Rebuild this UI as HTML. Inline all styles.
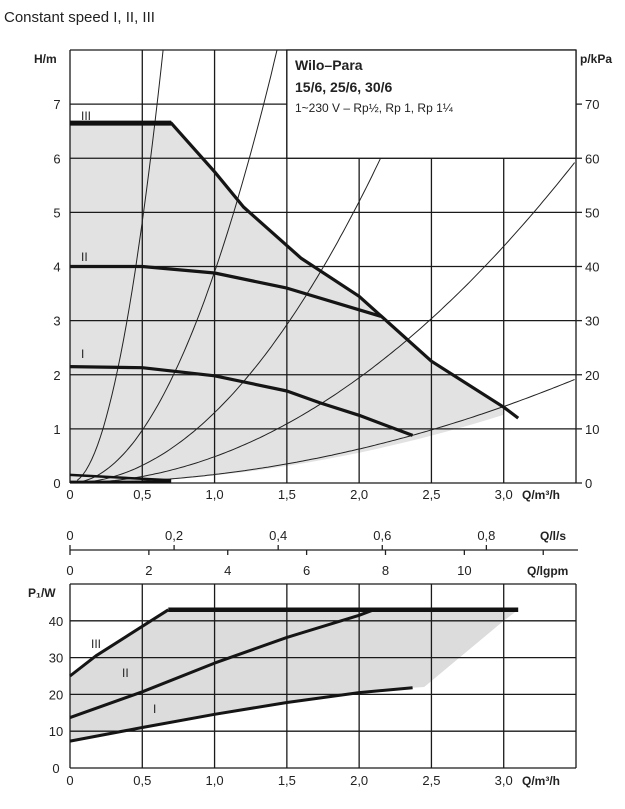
<!DOCTYPE html>
<html><head><meta charset="utf-8"><style>
body{margin:0;background:#fff;width:625px;height:804px;overflow:hidden;font-family:"Liberation Sans",sans-serif}
svg text{font-family:"Liberation Sans",sans-serif;fill:#222}
</style></head><body>
<svg id="c" width="625" height="804" xmlns="http://www.w3.org/2000/svg">
<text x="4" y="22" font-size="15">Constant speed I, II, III</text>
<g id="top"></g>
<g id="mid"></g>
<g id="bot"></g>
</svg>
<script>
// ---- data ----
const qTicks=[0,0.5,1.0,1.5,2.0,2.5,3.0];
const qLabels=["0","0,5","1,0","1,5","2,0","2,5","3,0"];
const hTicks=[0,1,2,3,4,5,6,7];
const pTicks=[0,10,20,30,40,50,60,70];
const curveIII=[[0,6.65],[0.7,6.65],[1.0,5.75],[1.2,5.1],[1.6,4.15],[2.0,3.45],[2.5,2.25],[3.0,1.4],[3.1,1.2]];
const curveII=[[0,4.0],[0.5,4.0],[1.0,3.88],[1.5,3.6],[2.0,3.2],[2.15,3.08]];
const curveI=[[0,2.15],[0.5,2.13],[1.0,1.98],[1.5,1.7],[1.73,1.48],[2.0,1.25],[2.37,0.88]];
const systemK=[19.3,3.9,1.3,0.486,0.157];
const shadeLowK=0.14;
const lsTicks=[0,0.2,0.4,0.6,0.8];
const lsLabels=["0","0,2","0,4","0,6","0,8"];
const gpmTicks=[0,2,4,6,8,10,12];
const gpmLabels=["0","2","4","6","8","10",""];
const wTicks=[0,10,20,30,40];
const powerIII=[[0,25],[0.18,30.5],[0.68,43],[3.1,43]];
const powerII=[[0,13.7],[0.5,20.7],[1.0,28.5],[1.5,35.5],[2.0,41.5],[2.1,43]];
const powerI=[[0,7.3],[0.5,11],[1.0,14.6],[1.5,17.8],[2.0,20.5],[2.37,21.8]];
const powerShadeEdge=[[3.1,43],[3.0,40],[2.45,22]];

// ---- axes ----
const NS="http://www.w3.org/2000/svg";
const X0=70,X1=576,QMAX=3.5;
const qx=q=>X0+q/QMAX*(X1-X0);
const TY0=483,TY1=50,HMAX=8;
const hy=h=>TY0-h/HMAX*(TY0-TY1);
const BY0=768,BY1=584,WMAX=50;
const wy=w=>BY0-w/WMAX*(BY0-BY1);
function el(p,tag,a,txt){const e=document.createElementNS(NS,tag);for(const k in a)e.setAttribute(k,a[k]);if(txt!==undefined)e.textContent=txt;p.appendChild(e);return e;}
const pathOf=(pts,fy)=>pts.map((p,i)=>(i?'L':'M')+qx(p[0]).toFixed(1)+','+fy(p[1]).toFixed(1)).join(' ');
const gTop=document.getElementById('top'),gMid=document.getElementById('mid'),gBot=document.getElementById('bot');

// top chart shading
let low=[];for(let q=3.0;q>=-0.001;q-=0.1)low.push([Math.max(q,0),shadeLowK*q*q]);
let shadeTop=curveIII.filter(p=>p[0]<=3.0).concat([[3.0,1.35]]).concat(low);
let s=el(gTop,'path',{d:pathOf(shadeTop,hy)+'Z',fill:'#e2e2e2',stroke:'none'});


// grid
qTicks.concat([QMAX]).forEach(q=>{const l=el(gTop,'line',{x1:qx(q),x2:qx(q),y1:TY1,y2:TY0,stroke:'#1a1a1a','stroke-width':1.3});

});
hTicks.concat([HMAX]).forEach(h=>{const l=el(gTop,'line',{x1:X0,x2:X1,y1:hy(h),y2:hy(h),stroke:'#1a1a1a','stroke-width':1.3});

});
// system curves
systemK.forEach(k=>{let pts=[];for(let q=0.05;q<=QMAX+0.001;q+=0.02){const h=k*q*q;if(h>HMAX){pts.push([Math.sqrt(HMAX/k),HMAX]);break;}pts.push([q,h]);}
const c=el(gTop,'path',{d:pathOf(pts,hy),fill:'none',stroke:'#222','stroke-width':1});

});
// small near-zero lines
const z=el(gTop,'path',{d:pathOf([[0,0.15],[0.7,0.05]],hy)+' '+pathOf([[0,0.02],[0.7,0.02]],hy),stroke:'#111','stroke-width':2.5,fill:'none'});


// legend box
const lb=el(gTop,'rect',{x:qx(1.5),y:TY1,width:X1-qx(1.5),height:hy(6)-TY1,fill:'#fff',stroke:'#1a1a1a','stroke-width':1.3});


el(gTop,'text',{x:295,y:70,'font-size':14,'font-weight':'bold',},'Wilo–Para');
el(gTop,'text',{x:295,y:92,'font-size':14,'font-weight':'bold',},'15/6, 25/6, 30/6');
el(gTop,'text',{x:295,y:112,'font-size':12,},'1~230 V – Rp½, Rp 1, Rp 1¼');
// pump curves
[[curveIII,'curve-speed-III'],[curveII,'curve-speed-II'],[curveI,'curve-speed-I']].forEach(([d,n])=>{
const c=el(gTop,'path',{d:pathOf(d,hy),fill:'none',stroke:'#151515','stroke-width':3.2,'stroke-linejoin':'round'});

});
const mx=el(gTop,'path',{d:pathOf(curveIII.slice(0,2),hy),stroke:'#111','stroke-width':5,fill:'none'});


el(gTop,'text',{x:81,y:120,'font-size':12,fill:'#555',},'III');
el(gTop,'text',{x:81,y:261,'font-size':12,},'II');
el(gTop,'text',{x:81,y:358,'font-size':12,},'I');
// axis labels
hTicks.forEach(h=>{const t=el(gTop,'text',{x:57,y:hy(h)+5,'font-size':13,'text-anchor':'middle'},h);

});
pTicks.forEach(p=>{el(gTop,'line',{x1:X1,x2:X1+6,y1:hy(p/10),y2:hy(p/10),stroke:'#222','stroke-width':1.3});
const t=el(gTop,'text',{x:585,y:hy(p/10)+5,'font-size':13},p);

});
el(gTop,'text',{x:34,y:63,'font-size':12,'font-weight':'bold',},'H/m');
el(gTop,'text',{x:580,y:63,'font-size':12,'font-weight':'bold',},'p/kPa');
qTicks.forEach((q,i)=>{const t=el(gTop,'text',{x:qx(q),y:499,'font-size':13,'text-anchor':'middle'},qLabels[i]);

});
el(gTop,'text',{x:522,y:499,'font-size':12,'font-weight':'bold',},'Q/m³/h');

// middle axes
const AY=550;
el(gMid,'line',{x1:X0,x2:578,y1:AY,y2:AY,stroke:'#222','stroke-width':1.3,});
lsTicks.forEach((v,i)=>{const x=qx(v*3.6);el(gMid,'line',{x1:x,x2:x,y1:AY-5,y2:AY,stroke:'#222','stroke-width':1.3});
const t=el(gMid,'text',{x:x,y:540,'font-size':13,'text-anchor':'middle'},lsLabels[i]);

});
gpmTicks.forEach((v,i)=>{const x=qx(v/3.666);el(gMid,'line',{x1:x,x2:x,y1:AY,y2:AY+5,stroke:'#222','stroke-width':1.3});
const t=el(gMid,'text',{x:x,y:575,'font-size':13,'text-anchor':'middle'},gpmLabels[i]);

});
el(gMid,'text',{x:540,y:540,'font-size':12,'font-weight':'bold',},'Q/l/s');
el(gMid,'text',{x:527,y:575,'font-size':12,'font-weight':'bold',},'Q/lgpm');

// bottom chart
const bs=powerIII.slice(0,3).concat(powerShadeEdge).concat(powerI.slice().reverse());
const bsh=el(gBot,'path',{d:pathOf(bs,wy)+'Z',fill:'#dcdcdc',stroke:'none'});


qTicks.concat([QMAX]).forEach(q=>{const l=el(gBot,'line',{x1:qx(q),x2:qx(q),y1:BY1,y2:BY0,stroke:'#1a1a1a','stroke-width':1.3});

});
wTicks.concat([WMAX]).forEach(w=>{const l=el(gBot,'line',{x1:X0,x2:X1,y1:wy(w),y2:wy(w),stroke:'#1a1a1a','stroke-width':1.3});

});
[[powerII,'power-II'],[powerI,'power-I'],[powerIII.slice(0,3),'power-III']].forEach(([d,n])=>{
const c=el(gBot,'path',{d:pathOf(d,wy),fill:'none',stroke:'#151515','stroke-width':3,'stroke-linejoin':'round'});

});
const pm=el(gBot,'path',{d:pathOf(powerIII.slice(2),wy),stroke:'#111','stroke-width':4.5,fill:'none'});


el(gBot,'text',{x:91,y:648,'font-size':12,fill:'#444',},'III');
el(gBot,'text',{x:122,y:677,'font-size':12,},'II');
el(gBot,'text',{x:153,y:713,'font-size':12,},'I');
wTicks.forEach(w=>{const t=el(gBot,'text',{x:56,y:wy(w)+5,'font-size':13,'text-anchor':'middle'},w);

});
el(gBot,'text',{x:28,y:597,'font-size':12,'font-weight':'bold',},'P₁/W');
qTicks.forEach((q,i)=>{const t=el(gBot,'text',{x:qx(q),y:785,'font-size':13,'text-anchor':'middle'},qLabels[i]);

});
el(gBot,'text',{x:522,y:785,'font-size':12,'font-weight':'bold',},'Q/m³/h');
</script>
</body></html>
